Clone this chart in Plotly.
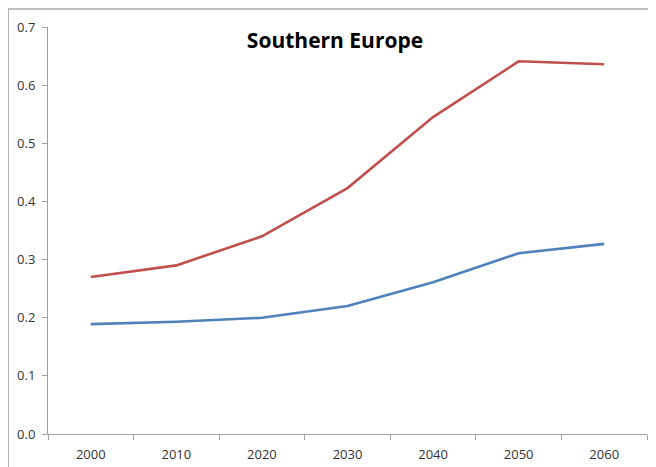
import plotly.graph_objects as go

years = ["2000", "2010", "2020", "2030", "2040", "2050", "2060"]
red_values = [0.270, 0.290, 0.340, 0.423, 0.545, 0.641, 0.636]
blue_values = [0.189, 0.193, 0.200, 0.220, 0.261, 0.311, 0.327]
y_ticks = [0.0, 0.1, 0.2, 0.3, 0.4, 0.5, 0.6, 0.7]
y_labels = ["0.0", "0.1", "0.2", "0.3", "0.4", "0.5", "0.6", "0.7"]

fig = go.Figure()
fig.add_trace(go.Scatter(x=years, y=blue_values, mode="lines",
                         line=dict(color="#4F81BD", width=2.6), showlegend=False))
fig.add_trace(go.Scatter(x=years, y=red_values, mode="lines",
                         line=dict(color="#C0504D", width=2.6), showlegend=False))

OFF = 8  # page body margin
W, H = 656 - OFF, 467 - OFF
L, T = 48 - OFF, 27 - OFF
R = W - (647 - OFF)
B = H - (434 - OFF)
pw, ph = W - L - R, H - T - B

def px_x(p):
    return (p - OFF - L) / pw

def px_y(p):
    return (H - B - (p - OFF)) / ph

fig.update_layout(
    width=W, height=H,
    margin=dict(l=L, r=R, t=T, b=B),
    paper_bgcolor="white", plot_bgcolor="white",
    title=dict(text="<b>Southern Europe</b>", x=(335 - OFF) / W,
               xanchor="center", y=1 - (41 - OFF) / H, yanchor="middle",
               font=dict(family="Open Sans", size=21, color="black")),
    xaxis=dict(type="category", tickson="boundaries", ticks="outside", ticklen=5,
               tickcolor="#a0a0a0", showline=True, linecolor="#a0a0a0", linewidth=1,
               showgrid=False, tickfont=dict(family="Open Sans", size=13, color="#333333"),
               ticklabelstandoff=8, range=[-0.5, 6.5], automargin=False),
    yaxis=dict(range=[0, 0.7], tickvals=y_ticks, ticktext=y_labels, ticks="outside",
               ticklen=5, tickcolor="#a0a0a0", showline=True, linecolor="#a0a0a0",
               linewidth=1, showgrid=False, zeroline=False, automargin=False,
               ticklabelstandoff=4,
               tickfont=dict(family="Open Sans", size=13, color="#333333")),
    shapes=[dict(type="rect", xref="paper", yref="paper",
                 x0=px_x(8), x1=px_x(662), y0=px_y(472), y1=px_y(9),
                 line=dict(color="#808080", width=1.2), fillcolor="rgba(0,0,0,0)")],
)

fig.write_html("out.html")
